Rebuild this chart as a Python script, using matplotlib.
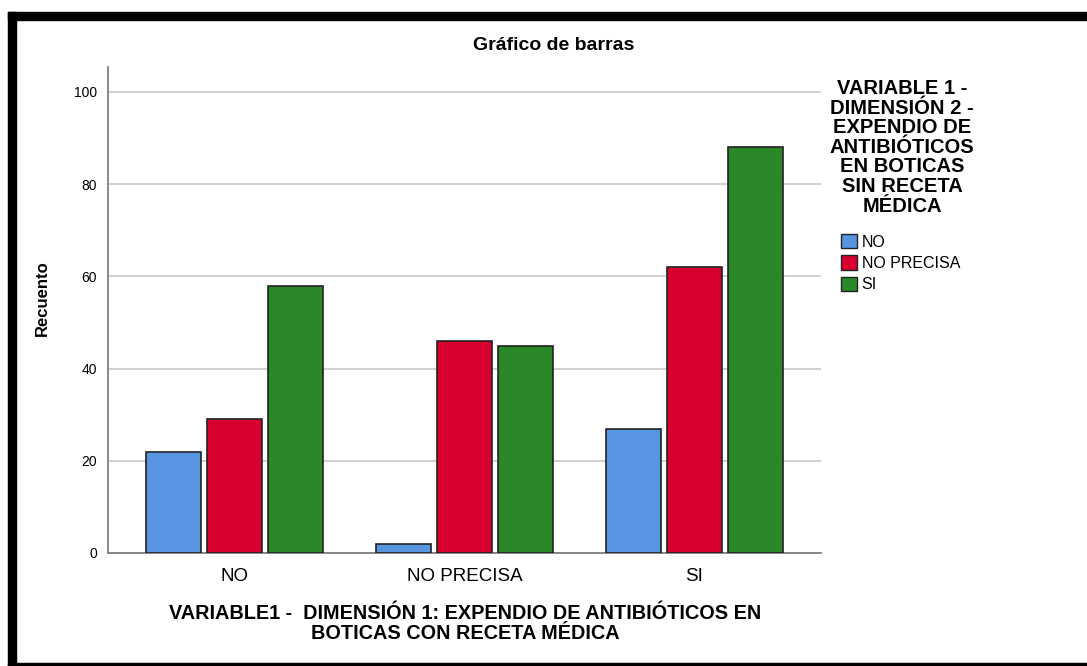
import matplotlib
matplotlib.use("Agg")
import matplotlib.pyplot as plt
import matplotlib.patches as mpatches
import numpy as np

plt.rcParams['font.family'] = ['Liberation Sans', 'DejaVu Sans']

# Data
categories = ['NO', 'NO PRECISA', 'SI']
series_names = ['NO', 'NO PRECISA', 'SI']
counts_no = [22, 2, 27]
counts_no_precisa = [29, 46, 62]
counts_si = [58, 45, 88]
yticks = [0, 20, 40, 60, 80, 100]

colors = ['#5895e0', '#d7002e', '#2a8829']

fig = plt.figure(figsize=(10.87, 6.66), dpi=100)
ax = fig.add_axes([108 / 1087, 113 / 666, 713 / 1087, 486 / 666])

x = np.arange(len(categories))
width = 0.239
step = 0.265
for i, (vals, col) in enumerate(zip([counts_no, counts_no_precisa, counts_si], colors)):
    ax.bar(x + (i - 1) * step, vals, width, color=col, edgecolor='#222222',
           linewidth=1.2, zorder=3, label=series_names[i])

ax.set_xlim(-0.55, 2.55)
ax.set_ylim(0, 105.4)
ax.set_yticks(yticks)
ax.set_yticklabels([str(t) for t in yticks], fontsize=10)
ax.set_xticks(x)
ax.set_xticklabels(categories, fontsize=13.5)
ax.tick_params(length=0, pad=8)
ax.tick_params(axis='x', pad=11)
ax.yaxis.grid(True, color='#c8c8c8', linewidth=1.2, zorder=0)
for s in ['top', 'right']:
    ax.spines[s].set_visible(False)
for s in ['left', 'bottom']:
    ax.spines[s].set_color('#808080')
    ax.spines[s].set_linewidth(1.3)

ax.set_ylabel('Recuento', fontsize=12, fontweight='bold')
ax.yaxis.set_label_coords(-0.081, 0.525)

fig.text(465 / 1087, 1 - 623.5 / 666,
         'VARIABLE1 -  DIMENSIÓN 1: EXPENDIO DE ANTIBIÓTICOS EN\nBOTICAS CON RECETA MÉDICA',
         ha='center', va='center', multialignment='center',
         fontsize=14.3, fontweight='bold', linespacing=1.05)

fig.text(554 / 1087, 1 - 45 / 666, 'Gráfico de barras', ha='center', va='center',
         fontsize=14, fontweight='bold')

fig.text(902 / 1087, 1 - 79 / 666,
         'VARIABLE 1 -\nDIMENSIÓN 2 -\nEXPENDIO DE\nANTIBIÓTICOS\nEN BOTICAS\nSIN RECETA\nMÉDICA',
         ha='center', va='top', fontsize=14.5, fontweight='bold', linespacing=1.04)

handles = [mpatches.Patch(facecolor=c, edgecolor='#222222', linewidth=1.0) for c in colors]
fig.legend(handles, series_names, loc='upper left',
           bbox_to_anchor=(841 / 1087, 1 - 234 / 666), frameon=False, fontsize=11.5,
           handlelength=1.0, handleheight=1.0, handletextpad=0.3,
           labelspacing=0.36, borderpad=0, borderaxespad=0)

# black frame around the picture, as in the exported image
fig.patches.append(mpatches.Rectangle((8 / 1087, 0), 8 / 1087, 1 - 12 / 666,
                                      transform=fig.transFigure, color='black', zorder=10))
fig.patches.append(mpatches.Rectangle((8 / 1087, 1 - 20 / 666), 1, 8 / 666,
                                      transform=fig.transFigure, color='black', zorder=10))
fig.patches.append(mpatches.Rectangle((8 / 1087, 0), 1, 3 / 666,
                                      transform=fig.transFigure, color='black', zorder=10))

fig.savefig('out.png', dpi=100)
plt.close()
